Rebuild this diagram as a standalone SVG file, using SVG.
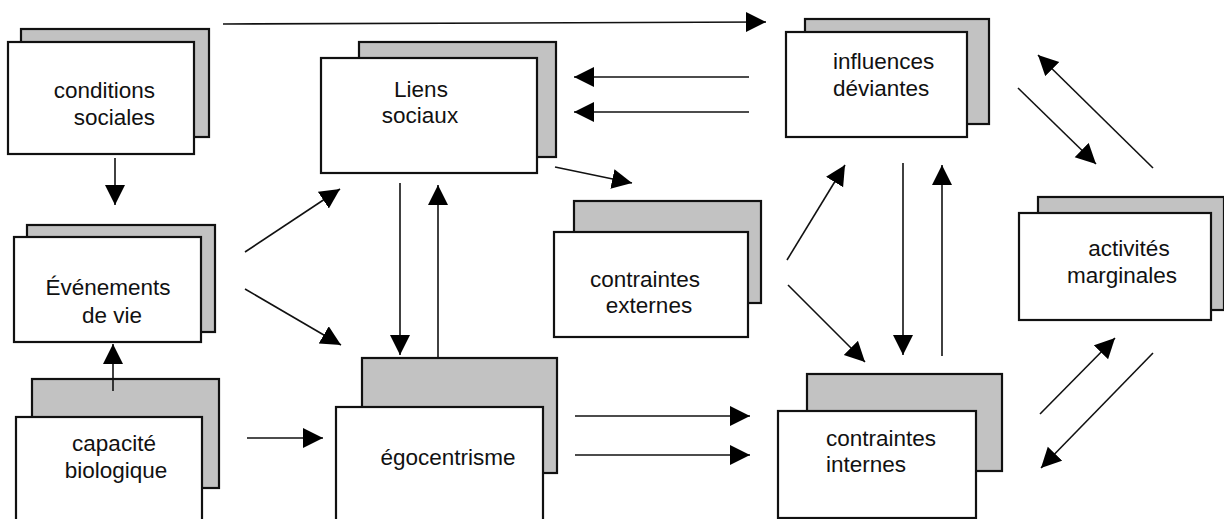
<svg xmlns="http://www.w3.org/2000/svg" width="1224" height="519" viewBox="0 0 1224 519">
<defs>
<marker id="ah" markerUnits="userSpaceOnUse" markerWidth="22" markerHeight="22" refX="20" refY="10" orient="auto">
<path d="M0,0 L20,10 L0,20 z" fill="#000"/>
</marker>
</defs>
<style>
.back{fill:#c2c2c2;stroke:#111;stroke-width:2.2}
.front{fill:#fff;stroke:#111;stroke-width:2.2}
.t{font-family:"Liberation Sans",Arial,sans-serif;font-size:22.5px;fill:#111}
.c{stroke:#111;stroke-width:1.6;fill:none;marker-end:url(#ah)}
</style>
<rect width="1224" height="519" fill="#fff"/>
<g id="conditions">
<rect class="back" x="21" y="29" width="188" height="108"/>
<rect class="front" x="8" y="42" width="186" height="112"/>
<text class="t" x="155" y="98" text-anchor="end">conditions</text>
<text class="t" x="155" y="125" text-anchor="end">sociales</text>
</g>
<g id="evenements">
<rect class="back" x="27" y="225" width="188" height="107"/>
<rect class="front" x="14" y="237" width="187" height="105"/>
<text class="t" x="108" y="295" text-anchor="middle">Événements</text>
<text class="t" x="112" y="323" text-anchor="middle">de vie</text>
</g>
<g id="capacite">
<rect class="back" x="32" y="379" width="187" height="109"/>
<rect class="front" x="16" y="417" width="186" height="106"/>
<text class="t" x="114" y="451" text-anchor="middle">capacité</text>
<text class="t" x="116" y="478" text-anchor="middle">biologique</text>
</g>
<g id="liens">
<rect class="back" x="359" y="42" width="197" height="115"/>
<rect class="front" x="321" y="58" width="216" height="115"/>
<text class="t" x="421" y="97" text-anchor="middle">Liens</text>
<text class="t" x="420" y="123" text-anchor="middle">sociaux</text>
</g>
<g id="egocentrisme">
<rect class="back" x="362" y="358" width="195" height="115"/>
<rect class="front" x="336" y="407" width="207" height="114"/>
<text class="t" x="448" y="465" text-anchor="middle">égocentrisme</text>
</g>
<g id="externes">
<rect class="back" x="574" y="201" width="187" height="102"/>
<rect class="front" x="554" y="232" width="194" height="105"/>
<text class="t" x="645" y="287" text-anchor="middle">contraintes</text>
<text class="t" x="649" y="313" text-anchor="middle">externes</text>
</g>
<g id="influences">
<rect class="back" x="805" y="19" width="184" height="105"/>
<rect class="front" x="786" y="32" width="181" height="105"/>
<text class="t" x="833" y="69">influences</text>
<text class="t" x="833" y="96">déviantes</text>
</g>
<g id="internes">
<rect class="back" x="807" y="374" width="195" height="97"/>
<rect class="front" x="778" y="411" width="198" height="107"/>
<text class="t" x="826" y="446">contraintes</text>
<text class="t" x="826" y="472">internes</text>
</g>
<g id="activites">
<rect class="back" x="1038" y="197" width="186" height="113"/>
<rect class="front" x="1019" y="213" width="192" height="107"/>
<text class="t" x="1129" y="256" text-anchor="middle">activités</text>
<text class="t" x="1122" y="283" text-anchor="middle">marginales</text>
</g>
<g id="connectors">
<line class="c" x1="115" y1="158" x2="115" y2="205"/>
<line class="c" x1="113" y1="391" x2="113" y2="344"/>
<line class="c" x1="247" y1="438" x2="323" y2="438"/>
<line class="c" x1="223" y1="24" x2="766" y2="22"/>
<line class="c" x1="245" y1="252" x2="340" y2="189"/>
<line class="c" x1="245" y1="289" x2="341" y2="345"/>
<line class="c" x1="400" y1="183" x2="400" y2="355"/>
<line class="c" x1="438" y1="357" x2="438" y2="185"/>
<line class="c" x1="749" y1="77" x2="574" y2="77"/>
<line class="c" x1="749" y1="112" x2="574" y2="112"/>
<line class="c" x1="555" y1="167" x2="632" y2="183"/>
<line class="c" x1="575" y1="416" x2="750" y2="416"/>
<line class="c" x1="575" y1="455" x2="750" y2="455"/>
<line class="c" x1="787" y1="260" x2="845" y2="165"/>
<line class="c" x1="788" y1="285" x2="865" y2="362"/>
<line class="c" x1="903" y1="163" x2="903" y2="355"/>
<line class="c" x1="942" y1="356" x2="942" y2="165"/>
<line class="c" x1="1018" y1="88" x2="1096" y2="164"/>
<line class="c" x1="1153" y1="168" x2="1038" y2="55"/>
<line class="c" x1="1040" y1="414" x2="1115" y2="338"/>
<line class="c" x1="1153" y1="353" x2="1041" y2="468"/>
</g>
</svg>
